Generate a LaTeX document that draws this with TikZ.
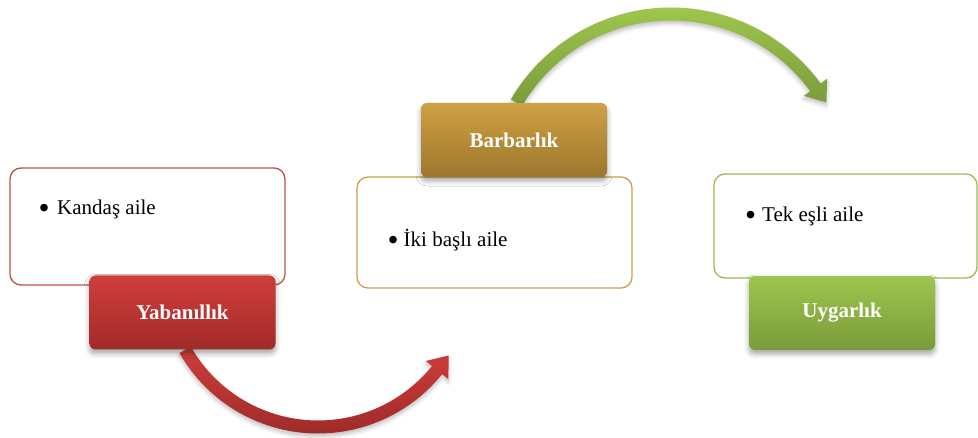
\documentclass[tikz,border=0pt]{standalone}
\usepackage{fontspec}
\setmainfont{Liberation Serif}
\usetikzlibrary{shadows.blur}

\definecolor{redline}{RGB}{192,80,77}
\definecolor{redtop}{RGB}{208,62,59}
\definecolor{redbot}{RGB}{160,43,41}
\definecolor{goldline}{RGB}{201,161,79}
\definecolor{goldtop}{RGB}{206,161,69}
\definecolor{goldbot}{RGB}{158,118,44}
\definecolor{greenline}{RGB}{155,187,89}
\definecolor{greentop}{RGB}{158,197,77}
\definecolor{greenbot}{RGB}{122,155,58}

% a slightly enlarged bullet for the list items
\newcommand\itembullet{\raisebox{-3.5pt}{\scalebox{1.5}{•}}}

\begin{document}
\begin{tikzpicture}[x=1pt,y=-1pt,
  notebox/.style={draw=#1, line width=1.3pt, rounded corners=11pt, fill=white,
    inner sep=0pt, outer sep=0pt},
  stagebox/.style={rounded corners=6pt, inner sep=0pt, outer sep=0pt,
    minimum width=186pt, minimum height=74pt, text=white,
    font=\fontsize{21}{25}\selectfont\bfseries,
    blur shadow={shadow xshift=0pt, shadow yshift=-4pt,
      shadow blur radius=5pt, shadow opacity=35}},
  bandshadow/.style={blur shadow={shadow xshift=0pt, shadow yshift=-3pt,
      shadow blur radius=4pt, shadow opacity=25}},
  itemtext/.style={anchor=base west, inner sep=0pt,
    font=\fontsize{21}{25}\selectfont}]

\useasboundingbox (0,0) rectangle (978,438);

% curved arrow from Yabanillik to the middle stage
\shade[top color=redtop, bottom color=redbot, bandshadow]
  plot[domain=150.3:38.9, samples=60] ({318+146.5*cos(\x)},{274+146.5*sin(\x)})
  -- ({318+138.5*cos(38.9)},{274+138.5*sin(38.9)})
  -- (448.7,355.5)
  -- ({318+167.5*cos(38.9)},{274+167.5*sin(38.9)})
  -- plot[domain=38.9:150.3, samples=60] ({318+159.5*cos(\x)},{274+159.5*sin(\x)})
  -- cycle;

% curved arrow from Barbarlik to the last stage
\shade[top color=greentop, bottom color=greenbot, bandshadow]
  plot[domain=-149.7:-36.2, samples=60] ({671+185.5*cos(\x)},{193+185.5*sin(\x)})
  -- ({671+193.5*cos(-36.2)},{193+193.5*sin(-36.2)})
  -- (826.4,102.4)
  -- ({671+164.5*cos(-36.2)},{193+164.5*sin(-36.2)})
  -- plot[domain=-36.2:-149.7, samples=60] ({671+172.5*cos(\x)},{193+172.5*sin(\x)})
  -- cycle;

% note boxes
\node[notebox=redline, minimum width=275pt, minimum height=117pt] (n1) at (147.5,226.5) {};
\node[notebox=goldline, minimum width=275pt, minimum height=111pt] (n2) at (494.5,232.5) {};
\node[notebox=greenline, minimum width=263pt, minimum height=104pt] (n3) at (845.5,226) {};

\node[itemtext] (i1) at (38.5,215) {\itembullet\hspace{7.5pt}Kandaş aile};
\node[itemtext] (i2) at (387.5,247) {\itembullet\hspace{5pt}İki başlı aile};
\node[itemtext] (i3) at (745,222) {\itembullet\hspace{6pt}Tek eşli aile};

% stage labels
\node[stagebox, top color=redtop, bottom color=redbot] (s1) at (182.5,312.5) {Yabanıllık};
\node[stagebox, top color=goldtop, bottom color=goldbot] (s2) at (514,140) {Barbarlık};
\node[stagebox, top color=greentop, bottom color=greenbot] (s3) at (842,313) {Uygarlık};

\end{tikzpicture}
\end{document}
